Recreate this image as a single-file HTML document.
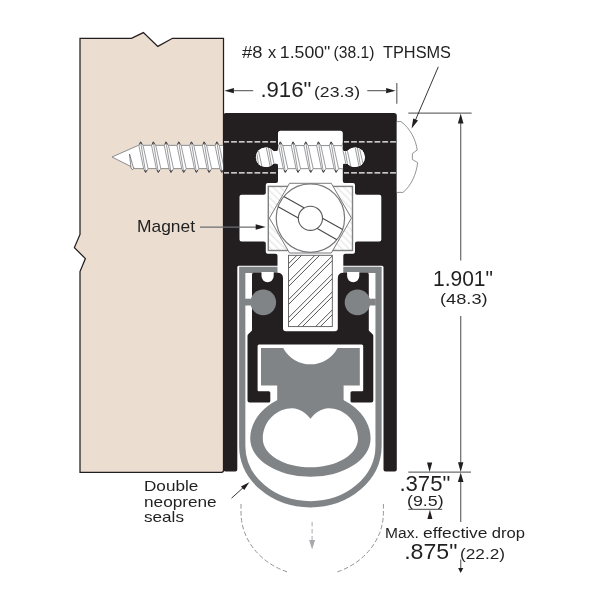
<!DOCTYPE html>
<html><head><meta charset="utf-8"><title>Door bottom diagram</title>
<style>html,body{margin:0;padding:0;background:#fff;}svg{display:block;}text{font-family:"Liberation Sans",sans-serif;}</style>
</head><body>
<svg width="600" height="600" viewBox="0 0 600 600"><path d="M80,38.3 L131.4,38.3 L143.4,32.6 L157.8,46.4 L172.5,38.3 L223.5,38.3 L223.5,470.3 Q223.5,472.3 221.5,472.3 L80,472.3 L80,271.6 L85.4,258.6 L74.4,247.6 L80,234.4 Z" fill="#ebddd0" stroke="#231f20" stroke-width="1.25" stroke-linejoin="miter"/>
<defs><g id="screw"><path d="M112,157 L138.5,145.3 L396,145.7 L396,168.7 L135,168.6 Z" fill="#fff" stroke="#808285" stroke-width="0.9" stroke-linejoin="round"/><path d="M129.5,154 L133.6,168.4 L132.5,169.8 L131,168 Z" fill="#fff" stroke="#58595b" stroke-width="0.7" stroke-linejoin="round"/><path d="M140.60,142.00 L143.10,145.70 L148.10,168.70 L145.60,172.20 L143.70,169.00 L138.90,145.70 Z" fill="#fff" stroke="#808285" stroke-width="0.8" stroke-linejoin="round"/><path d="M140.60,142.0 L145.60,172.2" fill="none" stroke="#808285" stroke-width="0.8"/><path d="M139.70,144 L140.60,141.8 L141.90,144 M144.60,170.4 L145.60,172.4 L146.80,170.4" fill="none" stroke="#3a3a3c" stroke-width="0.9" stroke-linejoin="round" stroke-linecap="round"/><path d="M153.30,142.00 L155.80,145.70 L160.80,168.70 L158.30,172.20 L156.40,169.00 L151.60,145.70 Z" fill="#fff" stroke="#808285" stroke-width="0.8" stroke-linejoin="round"/><path d="M153.30,142.0 L158.30,172.2" fill="none" stroke="#808285" stroke-width="0.8"/><path d="M152.40,144 L153.30,141.8 L154.60,144 M157.30,170.4 L158.30,172.4 L159.50,170.4" fill="none" stroke="#3a3a3c" stroke-width="0.9" stroke-linejoin="round" stroke-linecap="round"/><path d="M166.00,142.00 L168.50,145.70 L173.50,168.70 L171.00,172.20 L169.10,169.00 L164.30,145.70 Z" fill="#fff" stroke="#808285" stroke-width="0.8" stroke-linejoin="round"/><path d="M166.00,142.0 L171.00,172.2" fill="none" stroke="#808285" stroke-width="0.8"/><path d="M165.10,144 L166.00,141.8 L167.30,144 M170.00,170.4 L171.00,172.4 L172.20,170.4" fill="none" stroke="#3a3a3c" stroke-width="0.9" stroke-linejoin="round" stroke-linecap="round"/><path d="M178.70,142.00 L181.20,145.70 L186.20,168.70 L183.70,172.20 L181.80,169.00 L177.00,145.70 Z" fill="#fff" stroke="#808285" stroke-width="0.8" stroke-linejoin="round"/><path d="M178.70,142.0 L183.70,172.2" fill="none" stroke="#808285" stroke-width="0.8"/><path d="M177.80,144 L178.70,141.8 L180.00,144 M182.70,170.4 L183.70,172.4 L184.90,170.4" fill="none" stroke="#3a3a3c" stroke-width="0.9" stroke-linejoin="round" stroke-linecap="round"/><path d="M191.40,142.00 L193.90,145.70 L198.90,168.70 L196.40,172.20 L194.50,169.00 L189.70,145.70 Z" fill="#fff" stroke="#808285" stroke-width="0.8" stroke-linejoin="round"/><path d="M191.40,142.0 L196.40,172.2" fill="none" stroke="#808285" stroke-width="0.8"/><path d="M190.50,144 L191.40,141.8 L192.70,144 M195.40,170.4 L196.40,172.4 L197.60,170.4" fill="none" stroke="#3a3a3c" stroke-width="0.9" stroke-linejoin="round" stroke-linecap="round"/><path d="M204.10,142.00 L206.60,145.70 L211.60,168.70 L209.10,172.20 L207.20,169.00 L202.40,145.70 Z" fill="#fff" stroke="#808285" stroke-width="0.8" stroke-linejoin="round"/><path d="M204.10,142.0 L209.10,172.2" fill="none" stroke="#808285" stroke-width="0.8"/><path d="M203.20,144 L204.10,141.8 L205.40,144 M208.10,170.4 L209.10,172.4 L210.30,170.4" fill="none" stroke="#3a3a3c" stroke-width="0.9" stroke-linejoin="round" stroke-linecap="round"/><path d="M216.80,142.00 L219.30,145.70 L224.30,168.70 L221.80,172.20 L219.90,169.00 L215.10,145.70 Z" fill="#fff" stroke="#808285" stroke-width="0.8" stroke-linejoin="round"/><path d="M216.80,142.0 L221.80,172.2" fill="none" stroke="#808285" stroke-width="0.8"/><path d="M215.90,144 L216.80,141.8 L218.10,144 M220.80,170.4 L221.80,172.4 L223.00,170.4" fill="none" stroke="#3a3a3c" stroke-width="0.9" stroke-linejoin="round" stroke-linecap="round"/><path d="M229.50,142.00 L232.00,145.70 L237.00,168.70 L234.50,172.20 L232.60,169.00 L227.80,145.70 Z" fill="#fff" stroke="#808285" stroke-width="0.8" stroke-linejoin="round"/><path d="M229.50,142.0 L234.50,172.2" fill="none" stroke="#808285" stroke-width="0.8"/><path d="M228.60,144 L229.50,141.8 L230.80,144 M233.50,170.4 L234.50,172.4 L235.70,170.4" fill="none" stroke="#3a3a3c" stroke-width="0.9" stroke-linejoin="round" stroke-linecap="round"/><path d="M242.20,142.00 L244.70,145.70 L249.70,168.70 L247.20,172.20 L245.30,169.00 L240.50,145.70 Z" fill="#fff" stroke="#808285" stroke-width="0.8" stroke-linejoin="round"/><path d="M242.20,142.0 L247.20,172.2" fill="none" stroke="#808285" stroke-width="0.8"/><path d="M241.30,144 L242.20,141.8 L243.50,144 M246.20,170.4 L247.20,172.4 L248.40,170.4" fill="none" stroke="#3a3a3c" stroke-width="0.9" stroke-linejoin="round" stroke-linecap="round"/><path d="M254.90,142.00 L257.40,145.70 L262.40,168.70 L259.90,172.20 L258.00,169.00 L253.20,145.70 Z" fill="#fff" stroke="#808285" stroke-width="0.8" stroke-linejoin="round"/><path d="M254.90,142.0 L259.90,172.2" fill="none" stroke="#808285" stroke-width="0.8"/><path d="M254.00,144 L254.90,141.8 L256.20,144 M258.90,170.4 L259.90,172.4 L261.10,170.4" fill="none" stroke="#3a3a3c" stroke-width="0.9" stroke-linejoin="round" stroke-linecap="round"/><path d="M267.60,142.00 L270.10,145.70 L275.10,168.70 L272.60,172.20 L270.70,169.00 L265.90,145.70 Z" fill="#fff" stroke="#808285" stroke-width="0.8" stroke-linejoin="round"/><path d="M267.60,142.0 L272.60,172.2" fill="none" stroke="#808285" stroke-width="0.8"/><path d="M266.70,144 L267.60,141.8 L268.90,144 M271.60,170.4 L272.60,172.4 L273.80,170.4" fill="none" stroke="#3a3a3c" stroke-width="0.9" stroke-linejoin="round" stroke-linecap="round"/><path d="M280.30,142.00 L282.80,145.70 L287.80,168.70 L285.30,172.20 L283.40,169.00 L278.60,145.70 Z" fill="#fff" stroke="#808285" stroke-width="0.8" stroke-linejoin="round"/><path d="M280.30,142.0 L285.30,172.2" fill="none" stroke="#808285" stroke-width="0.8"/><path d="M279.40,144 L280.30,141.8 L281.60,144 M284.30,170.4 L285.30,172.4 L286.50,170.4" fill="none" stroke="#3a3a3c" stroke-width="0.9" stroke-linejoin="round" stroke-linecap="round"/><path d="M293.00,142.00 L295.50,145.70 L300.50,168.70 L298.00,172.20 L296.10,169.00 L291.30,145.70 Z" fill="#fff" stroke="#808285" stroke-width="0.8" stroke-linejoin="round"/><path d="M293.00,142.0 L298.00,172.2" fill="none" stroke="#808285" stroke-width="0.8"/><path d="M292.10,144 L293.00,141.8 L294.30,144 M297.00,170.4 L298.00,172.4 L299.20,170.4" fill="none" stroke="#3a3a3c" stroke-width="0.9" stroke-linejoin="round" stroke-linecap="round"/><path d="M305.70,142.00 L308.20,145.70 L313.20,168.70 L310.70,172.20 L308.80,169.00 L304.00,145.70 Z" fill="#fff" stroke="#808285" stroke-width="0.8" stroke-linejoin="round"/><path d="M305.70,142.0 L310.70,172.2" fill="none" stroke="#808285" stroke-width="0.8"/><path d="M304.80,144 L305.70,141.8 L307.00,144 M309.70,170.4 L310.70,172.4 L311.90,170.4" fill="none" stroke="#3a3a3c" stroke-width="0.9" stroke-linejoin="round" stroke-linecap="round"/><path d="M318.40,142.00 L320.90,145.70 L325.90,168.70 L323.40,172.20 L321.50,169.00 L316.70,145.70 Z" fill="#fff" stroke="#808285" stroke-width="0.8" stroke-linejoin="round"/><path d="M318.40,142.0 L323.40,172.2" fill="none" stroke="#808285" stroke-width="0.8"/><path d="M317.50,144 L318.40,141.8 L319.70,144 M322.40,170.4 L323.40,172.4 L324.60,170.4" fill="none" stroke="#3a3a3c" stroke-width="0.9" stroke-linejoin="round" stroke-linecap="round"/><path d="M331.10,142.00 L333.60,145.70 L338.60,168.70 L336.10,172.20 L334.20,169.00 L329.40,145.70 Z" fill="#fff" stroke="#808285" stroke-width="0.8" stroke-linejoin="round"/><path d="M331.10,142.0 L336.10,172.2" fill="none" stroke="#808285" stroke-width="0.8"/><path d="M330.20,144 L331.10,141.8 L332.40,144 M335.10,170.4 L336.10,172.4 L337.30,170.4" fill="none" stroke="#3a3a3c" stroke-width="0.9" stroke-linejoin="round" stroke-linecap="round"/><path d="M343.80,142.00 L346.30,145.70 L351.30,168.70 L348.80,172.20 L346.90,169.00 L342.10,145.70 Z" fill="#fff" stroke="#808285" stroke-width="0.8" stroke-linejoin="round"/><path d="M343.80,142.0 L348.80,172.2" fill="none" stroke="#808285" stroke-width="0.8"/><path d="M342.90,144 L343.80,141.8 L345.10,144 M347.80,170.4 L348.80,172.4 L350.00,170.4" fill="none" stroke="#3a3a3c" stroke-width="0.9" stroke-linejoin="round" stroke-linecap="round"/><path d="M356.50,142.00 L359.00,145.70 L364.00,168.70 L361.50,172.20 L359.60,169.00 L354.80,145.70 Z" fill="#fff" stroke="#808285" stroke-width="0.8" stroke-linejoin="round"/><path d="M356.50,142.0 L361.50,172.2" fill="none" stroke="#808285" stroke-width="0.8"/><path d="M355.60,144 L356.50,141.8 L357.80,144 M360.50,170.4 L361.50,172.4 L362.70,170.4" fill="none" stroke="#3a3a3c" stroke-width="0.9" stroke-linejoin="round" stroke-linecap="round"/><path d="M369.20,142.00 L371.70,145.70 L376.70,168.70 L374.20,172.20 L372.30,169.00 L367.50,145.70 Z" fill="#fff" stroke="#808285" stroke-width="0.8" stroke-linejoin="round"/><path d="M369.20,142.0 L374.20,172.2" fill="none" stroke="#808285" stroke-width="0.8"/><path d="M368.30,144 L369.20,141.8 L370.50,144 M373.20,170.4 L374.20,172.4 L375.40,170.4" fill="none" stroke="#3a3a3c" stroke-width="0.9" stroke-linejoin="round" stroke-linecap="round"/><path d="M381.90,142.00 L384.40,145.70 L389.40,168.70 L386.90,172.20 L385.00,169.00 L380.20,145.70 Z" fill="#fff" stroke="#808285" stroke-width="0.8" stroke-linejoin="round"/><path d="M381.90,142.0 L386.90,172.2" fill="none" stroke="#808285" stroke-width="0.8"/><path d="M381.00,144 L381.90,141.8 L383.20,144 M385.90,170.4 L386.90,172.4 L388.10,170.4" fill="none" stroke="#3a3a3c" stroke-width="0.9" stroke-linejoin="round" stroke-linecap="round"/></g>
<clipPath id="cdoor"><rect x="100" y="130" width="123.3" height="60"/></clipPath>
<clipPath id="cchan"><rect x="278" y="131" width="64.8" height="55"/><circle cx="265.7" cy="157.3" r="9.8"/><circle cx="355.1" cy="157.3" r="9.8"/><rect x="268" y="151.2" width="85" height="12.2"/></clipPath>
<pattern id="hl" width="5" height="5" patternUnits="userSpaceOnUse" patternTransform="rotate(-45)"><rect width="5" height="5" fill="#fff"/><rect width="1.5" height="5" fill="#e9e9ea"/></pattern>
<pattern id="hs" width="12.73" height="12.73" patternUnits="userSpaceOnUse" patternTransform="translate(288.5 255.3) rotate(45)"><rect width="12.73" height="12.73" fill="#fff"/><rect x="5.5" width="0.85" height="12.73" fill="#4d4d4f"/><rect x="8.95" width="0.85" height="12.73" fill="#4d4d4f"/></pattern>
</defs>
<use href="#screw" clip-path="url(#cdoor)"/>
<path d="M223.30,115.80 Q223.30,113.00 226.10,113.00 L394.00,113.00 Q396.80,113.00 396.80,115.80 L396.80,469.40 Q396.80,471.40 394.80,471.40 L385.50,471.40 Q383.50,471.40 383.50,469.40 L383.50,267.30 Q383.50,265.80 382.00,265.80 L238.80,265.80 Q237.30,265.80 237.30,267.30 L237.30,469.40 Q237.30,471.40 235.30,471.40 L225.40,471.40 Q223.40,471.40 223.40,469.40 Z" fill="#231f20"/>
<path d="M310.40,130.80 L280.50,130.80 Q278.00,130.80 278.00,133.30 L278.00,181.00 Q278.00,183.00 276.00,183.00 L267.80,183.00 Q265.80,183.00 265.80,185.00 L265.80,192.70 Q265.80,194.70 263.80,194.70 L241.50,194.70 Q239.50,194.70 239.50,196.70 L239.50,239.50 Q239.50,241.50 241.50,241.50 L263.80,241.50 Q265.80,241.50 265.80,243.50 L265.80,251.80 Q265.80,253.80 267.80,253.80 L275.50,253.80 Q277.50,253.80 277.50,255.80 L277.50,267.00 L310.40,267.00 L310.40,267.00 L343.30,267.00 L343.30,255.80 Q343.30,253.80 345.30,253.80 L353.00,253.80 Q355.00,253.80 355.00,251.80 L355.00,243.50 Q355.00,241.50 357.00,241.50 L379.30,241.50 Q381.30,241.50 381.30,239.50 L381.30,196.70 Q381.30,194.70 379.30,194.70 L357.00,194.70 Q355.00,194.70 355.00,192.70 L355.00,185.00 Q355.00,183.00 353.00,183.00 L344.80,183.00 Q342.80,183.00 342.80,181.00 L342.80,133.30 Q342.80,130.80 340.30,130.80 Z" fill="#fff"/>
<circle cx="265.7" cy="157.3" r="9.8" fill="#fff"/>
<circle cx="355.1" cy="157.3" r="9.8" fill="#fff"/>
<rect x="270" y="151.2" width="80.8" height="12.2" fill="#fff"/>
<path d="M275.80,151.3 Q278.00,151.3 278.00,149.1 L279.00,149.1 L279.00,165.5 L278.00,165.5 Q278.00,163.3 275.80,163.3 Z" fill="#fff"/>
<path d="M345.00,151.3 Q342.80,151.3 342.80,149.1 L341.80,149.1 L341.80,165.5 L342.80,165.5 Q342.80,163.3 345.00,163.3 Z" fill="#fff"/>
<path d="M224,141.95 H276.6 M344.0,141.95 H396.5" stroke="#fff" stroke-width="1.3" stroke-dasharray="5.8 2" stroke-dashoffset="0.7" fill="none"/>
<path d="M224,172.95 H276.6 M344.0,172.95 H396.5" stroke="#fff" stroke-width="1.3" stroke-dasharray="5.8 2" stroke-dashoffset="0.7" fill="none"/>
<use href="#screw" clip-path="url(#cchan)"/>
<path d="M277.5,269.9 L242.25,269.9 L242.25,446 A68.15,58.3 0 0 0 378.55,446 L378.55,269.9 L343.3,269.9" fill="none" stroke="#808486" stroke-width="6.2" stroke-linejoin="miter"/>
<path d="M310.40,331.30 L286.00,331.30 Q283.00,331.30 283.00,328.30 L283.00,278.25 Q283.00,272.75 277.50,272.75 L253.50,272.75 Q252.00,272.75 252.00,274.25 L252.00,330.50 L248.21,334.29 Q247.50,335.00 247.50,336.00 L247.50,400.50 Q247.50,402.50 249.50,402.50 L268.80,402.50 Q270.30,402.50 270.30,401.00 L270.30,392.75 Q270.30,391.25 268.80,391.25 L258.60,391.25 Q257.60,391.25 257.60,390.25 L257.60,346.10 Q257.60,344.60 259.10,344.60 L310.40,344.60 L310.40,344.60 L361.70,344.60 Q363.20,344.60 363.20,346.10 L363.20,390.25 Q363.20,391.25 362.20,391.25 L352.00,391.25 Q350.50,391.25 350.50,392.75 L350.50,401.00 Q350.50,402.50 352.00,402.50 L371.30,402.50 Q373.30,402.50 373.30,400.50 L373.30,336.00 Q373.30,335.00 372.59,334.29 L368.80,330.50 L368.80,274.25 Q368.80,272.75 367.30,272.75 L343.30,272.75 Q337.80,272.75 337.80,278.25 L337.80,328.30 Q337.80,331.30 334.80,331.30 L310.40,331.30 Z" fill="#231f20" fill-rule="evenodd"/>
<path d="M261.5,272 L261.5,276.1 A6.1,6.1 0 0 0 273.7,276.1 L273.7,272 Z" fill="#fff"/>
<path d="M347.1,272 L347.1,276.1 A6.1,6.1 0 0 0 359.3,276.1 L359.3,272 Z" fill="#fff"/>
<rect x="245" y="298.7" width="13.0" height="6.8" fill="#808486"/>
<circle cx="263.3" cy="302.4" r="12.8" fill="#808486"/>
<rect x="362.8" y="298.7" width="13.0" height="6.8" fill="#808486"/>
<circle cx="357.5" cy="302.4" r="12.8" fill="#808486"/>
<path d="M261.0,348 L283.2,348 A30.8,30.8 0 0 0 337.6,348 L359.8,348 L359.8,385.4 L343.6,385.4 L343.6,403 L277.2,403 L277.2,385.4 L261.0,385.4 Z" fill="#808486"/>
<path d="M250.2,438.5 A60.2,46 0 0 1 370.59999999999997,438.5 A60.2,38.3 0 0 1 250.2,438.5 Z M310.5,418.7 C306,413.5 300,408.3 292,408.3 C278,408.3 263,420 262.8,438.7 C262.8,454.5 284.1,467.3 310.4,467.3 C336.7,467.3 358,454.5 358,438.7 C357.8,420 342.8,408.3 328.8,408.3 C320.8,408.3 314.8,413.5 310.5,418.7 Z" fill="#808486" fill-rule="evenodd"/>
<rect x="268.3" y="186.4" width="84.2" height="64.1" fill="url(#hl)" stroke="#808285" stroke-width="1.4"/>
<path d="M289.5,183.3 L331.3,183.3 L351.4,218.1 L331.3,253 L289.5,253 L269.4,218.1 Z" fill="#fff" stroke="#58595b" stroke-width="0.8" stroke-linejoin="miter"/>
<circle cx="310.4" cy="218.1" r="34.2" fill="#fff" stroke="#77787b" stroke-width="1.2"/>
<path d="M283.85,196.55 L303.98,207.85 M322.50,218.24 L342.63,229.54 M278.17,206.66 L298.30,217.96 M316.82,228.35 L336.95,239.65" stroke="#48484a" stroke-width="1.1" fill="none"/>
<circle cx="310.4" cy="218.3" r="12.1" fill="#fff" stroke="#58595b" stroke-width="1.1"/>
<clipPath id="cstem"><rect x="288.5" y="255.3" width="43.80" height="71.30"/></clipPath>
<rect x="288.5" y="255.3" width="43.80" height="71.30" fill="#fff"/>
<path d="M286.50,211.70 L334.30,163.90 M286.50,216.45 L334.30,168.65 M286.50,229.70 L334.30,181.90 M286.50,234.45 L334.30,186.65 M286.50,247.70 L334.30,199.90 M286.50,252.45 L334.30,204.65 M286.50,265.70 L334.30,217.90 M286.50,270.45 L334.30,222.65 M286.50,283.70 L334.30,235.90 M286.50,288.45 L334.30,240.65 M286.50,301.70 L334.30,253.90 M286.50,306.45 L334.30,258.65 M286.50,319.70 L334.30,271.90 M286.50,324.45 L334.30,276.65 M286.50,337.70 L334.30,289.90 M286.50,342.45 L334.30,294.65 M286.50,355.70 L334.30,307.90 M286.50,360.45 L334.30,312.65 M286.50,373.70 L334.30,325.90 M286.50,378.45 L334.30,330.65" stroke="#4d4d4f" stroke-width="0.95" fill="none" clip-path="url(#cstem)"/>
<rect x="288.5" y="255.3" width="43.80" height="71.30" fill="none" stroke="#58595b" stroke-width="0.9"/>
<path d="M396.8,121.6 L401,121.6 C410,128 416,140 417.2,150 L412.4,153.5 L412.4,159.5 L417.6,162.6 C416.5,174 411,186 403,192.4 L396.8,192.4" fill="#fff" stroke="#77787b" stroke-width="0.8"/>
<path d="M233,90.7 H253.2 M367.3,90.7 H386 M396.8,82.9 V103.7 M408.3,113 H471.6 M460.7,122 V260.6 M460.7,316 V463 M408.3,472.2 H471 M460.7,481 V522 M460.7,559.5 V568.6 M408.3,509.4 H442.2 M200,227 H256" stroke="#6d6e71" stroke-width="1.25" fill="none"/>
<path d="M224.4,90.7 L233.9,88.1 L233.9,93.3 Z" fill="#231f20"/>
<path d="M395.6,90.7 L386.1,93.3 L386.1,88.1 Z" fill="#231f20"/>
<path d="M460.7,113.4 L463.5,123.4 L457.9,123.4 Z" fill="#231f20"/>
<path d="M460.7,472.0 L458.0,462.2 L463.4,462.2 Z" fill="#231f20"/>
<path d="M460.7,472.6 L463.5,482.1 L457.9,482.1 Z" fill="#231f20"/>
<path d="M460.7,573.0 L458.1,568.0 L463.3,568.0 Z" fill="#231f20"/>
<path d="M429.6,472.0 L427.0,462.5 L432.2,462.5 Z" fill="#231f20"/>
<path d="M429.9,509.8 L432.4,519.0 L427.4,519.0 Z" fill="#231f20"/>
<path d="M265.7,227.0 L255.7,229.7 L255.7,224.3 Z" fill="#231f20"/>
<path d="M438.3,66.8 L415.5,120" stroke="#231f20" stroke-width="0.9"/>
<path d="M411.6,128.6 L413.2,118.4 L418.0,120.5 Z" fill="#231f20"/>
<path d="M231.5,498.2 L245,486" stroke="#231f20" stroke-width="0.9"/>
<path d="M249.3,482.2 L244.3,490.1 L240.9,486.4 Z" fill="#231f20"/>
<path d="M241,504 V512 A71.2,63.5 0 0 0 287.5,572 M383.4,504 V512 A72.5,63.5 0 0 1 337,572" stroke="#939598" stroke-width="1" stroke-dasharray="4.6 2.4" fill="none"/>
<path d="M312.1,522 V541" stroke="#a7a9ac" stroke-width="1" stroke-dasharray="4.4 2.6" fill="none"/>
<path d="M312.1,549.6 L309.1,540.0 L315.1,540.0 Z" fill="#a7a9ac"/>
<g font-family="Liberation Sans, sans-serif" fill="#231f20" style="filter:grayscale(1)">
<text x="242" y="57.7" font-size="15.6" text-anchor="start" textLength="20.4" lengthAdjust="spacingAndGlyphs">#8</text>
<text x="268" y="57.7" font-size="15.6" text-anchor="start" textLength="8.2" lengthAdjust="spacingAndGlyphs">x</text>
<text x="279.8" y="57.7" font-size="15.6" text-anchor="start" textLength="50.6" lengthAdjust="spacingAndGlyphs">1.500&quot;</text>
<text x="333.6" y="57.7" font-size="15.6" text-anchor="start" textLength="40.8" lengthAdjust="spacingAndGlyphs">(38.1)</text>
<text x="383" y="57.7" font-size="15.6" text-anchor="start" textLength="68" lengthAdjust="spacingAndGlyphs">TPHSMS</text>
<text x="260.4" y="97" font-size="22" text-anchor="start" textLength="51" lengthAdjust="spacingAndGlyphs">.916&quot;</text>
<text x="314" y="97" font-size="15.5" text-anchor="start" textLength="46" lengthAdjust="spacingAndGlyphs">(23.3)</text>
<text x="137" y="231.7" font-size="16.4" text-anchor="start" textLength="58" lengthAdjust="spacingAndGlyphs">Magnet</text>
<text x="433" y="285.6" font-size="21.5" text-anchor="start" textLength="60" lengthAdjust="spacingAndGlyphs">1.901&quot;</text>
<text x="440" y="304" font-size="15" text-anchor="start" textLength="47.6" lengthAdjust="spacingAndGlyphs">(48.3)</text>
<text x="144" y="490.7" font-size="15" text-anchor="start" textLength="54.3" lengthAdjust="spacingAndGlyphs">Double</text>
<text x="144" y="506.7" font-size="15" text-anchor="start" textLength="72.7" lengthAdjust="spacingAndGlyphs">neoprene</text>
<text x="144" y="522.3" font-size="15" text-anchor="start" textLength="40" lengthAdjust="spacingAndGlyphs">seals</text>
<text x="399.4" y="491" font-size="21.5" text-anchor="start" textLength="51" lengthAdjust="spacingAndGlyphs">.375&quot;</text>
<text x="407" y="506" font-size="14.5" text-anchor="start" textLength="36.6" lengthAdjust="spacingAndGlyphs">(9.5)</text>
<text x="385" y="538.2" font-size="15.3" text-anchor="start" textLength="33.75" lengthAdjust="spacingAndGlyphs">Max.</text>
<text x="423" y="538.2" font-size="15.3" text-anchor="start" textLength="64.5" lengthAdjust="spacingAndGlyphs">effective</text>
<text x="491.75" y="538.2" font-size="15.3" text-anchor="start" textLength="33.25" lengthAdjust="spacingAndGlyphs">drop</text>
<text x="404.2" y="559" font-size="21.5" text-anchor="start" textLength="53.2" lengthAdjust="spacingAndGlyphs">.875&quot;</text>
<text x="460" y="559" font-size="15.5" text-anchor="start" textLength="45" lengthAdjust="spacingAndGlyphs">(22.2)</text>
</g></svg>
</body></html>
